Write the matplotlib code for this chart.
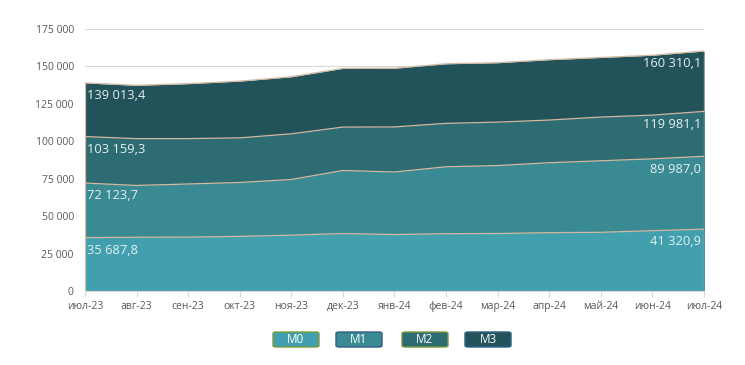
import matplotlib.pyplot as plt
from matplotlib.patches import FancyBboxPatch

months = ['июл-23', 'авг-23', 'сен-23', 'окт-23', 'ноя-23', 'дек-23', 'янв-24',
          'фев-24', 'мар-24', 'апр-24', 'май-24', 'июн-24', 'июл-24']
m0 = [35687.8, 35900, 36000, 36500, 37300, 38400, 37700, 38300, 38400, 39000, 39200, 40300, 41320.9]
m1 = [72123.7, 70500, 71500, 72500, 74500, 80500, 79500, 83000, 83800, 85700, 87000, 88300, 89987.0]
m2 = [103159.3, 101800, 101800, 102300, 105000, 109500, 109600, 112000, 112800, 114200, 116200, 117500, 119981.1]
m3 = [139013.4, 137400, 138500, 140200, 143100, 148700, 148800, 151800, 152500, 154500, 156000, 157500, 160310.1]
names = ['M0', 'M1', 'M2', 'M3']
colors = ['#42a0ae', '#3a8a94', '#2e6c73', '#22525a']
edges = ['#7a9a3a', '#2f5f86', '#7a9a3a', '#2f5f86']

plt.rcParams['font.family'] = ['Open Sans', 'DejaVu Sans']

fig = plt.figure(figsize=(7.45, 3.65), dpi=100)
ax = fig.add_axes([0.114, 0.2027, 0.831, 0.7178])

x = list(range(len(months)))
series = [m0, m1, m2, m3]
for vals, col in reversed(list(zip(series, colors))):
    ax.fill_between(x, 0, vals, color=col, lw=0, zorder=2)
    ax.plot(x, vals, color='#d4b8a0', lw=0.9, zorder=3)
for xx in (x[0], x[-1]):
    ax.plot([xx, xx], [0, m3[xx]], color='#d4b8a0', lw=0.9, zorder=3)


def fmt(v):
    s = '{:,.1f}'.format(v).replace(',', ' ').replace('.', ',')
    return s


for vals in series:
    ax.text(x[0] + 0.04, vals[0] - 8500, fmt(vals[0]), color='#e6f0f2',
            fontsize=9.3, ha='left', va='center', zorder=4)
    ax.text(x[-1] - 0.05, vals[-1] - 8500, fmt(vals[-1]), color='#e6f0f2',
            fontsize=9.3, ha='right', va='center', zorder=4)

ax.set_xlim(0, len(months) - 1)
ax.set_ylim(0, 175000)
ax.set_yticks(range(0, 175001, 25000))
ax.set_yticklabels(['{:,}'.format(t).replace(',', ' ') for t in range(0, 175001, 25000)])
ax.set_xticks(x)
ax.set_xticklabels(months)
ax.grid(axis='y', color='#d9d9d9', lw=0.8, zorder=0)
ax.set_axisbelow(True)
for s in ('top', 'right', 'left'):
    ax.spines[s].set_visible(False)
ax.spines['bottom'].set_color('#d9d9d9')
ax.tick_params(axis='y', length=0, labelsize=7.5, colors='#595959', pad=8)
ax.tick_params(axis='x', length=4, color='#d9d9d9', labelsize=7.5, colors='#595959', pad=3)

# legend boxes
lx = [273, 336, 402, 465]
for px, name, col, ec in zip(lx, names, colors, edges):
    box = FancyBboxPatch((px / 745, 1 - 347 / 365), 46 / 745, 15 / 365,
                         boxstyle='round,pad=0,rounding_size=0.004',
                         transform=fig.transFigure, facecolor=col, edgecolor=ec, lw=1)
    fig.patches.append(box)
    fig.text((px + 23) / 745, 1 - 339.5 / 365, name, color='white', fontsize=8.5,
             ha='center', va='center')

fig.savefig('out.png', dpi=100)
